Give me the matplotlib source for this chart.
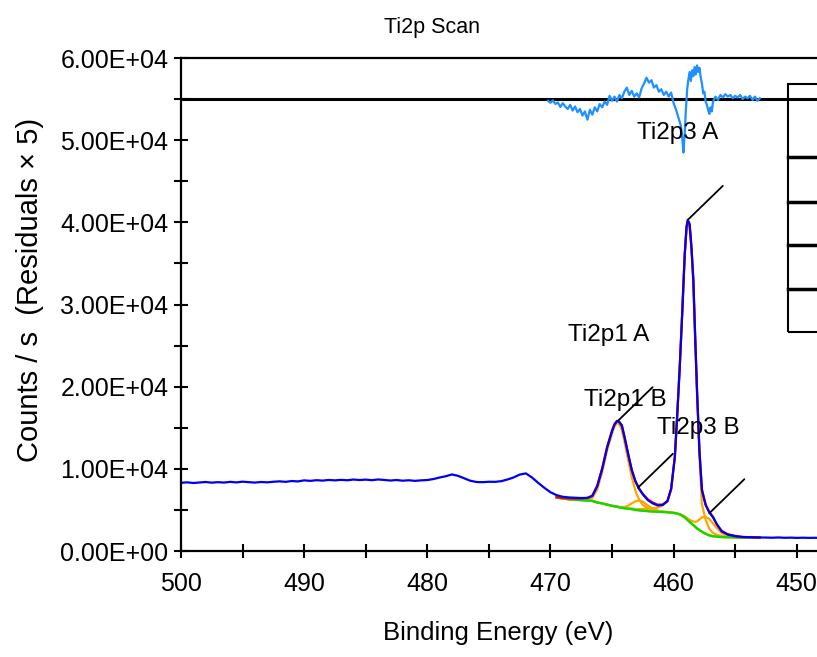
import numpy as np
import matplotlib
matplotlib.use('Agg')
import matplotlib.pyplot as plt
from matplotlib.patches import Rectangle
from matplotlib.lines import Line2D
from matplotlib.ticker import MultipleLocator, FuncFormatter

plt.rcParams['font.family'] = ['Liberation Sans', 'DejaVu Sans']

# wide scan part (500 -> 470 eV, 0.5 eV step)
be_wide = np.arange(500.0, 469.9, -0.5)
counts_wide = [8300, 8360, 8280, 8340, 8400, 8320, 8380, 8330, 8420, 8350,
               8440, 8380, 8330, 8400, 8360, 8430, 8480, 8420, 8520, 8470,
               8600, 8540, 8620, 8570, 8650, 8600, 8660, 8610, 8700, 8640,
               8690, 8620, 8710, 8650, 8580, 8640, 8560, 8610, 8540, 8600,
               8640, 8760, 8950, 9100, 9320, 9150, 8850, 8550, 8400, 8380,
               8430, 8420, 8500, 8700, 8950, 9300, 9450, 8950, 8300, 7700,
               7150]

# fit region
be_fit = [469.5, 469.0, 468.5, 468.0, 467.5, 467.0, 466.6, 466.2, 465.8, 465.4,
          465.0, 464.8, 464.6, 464.4, 464.2, 464.0, 463.7, 463.4, 463.1, 462.8,
          462.5, 462.1, 461.7, 461.3, 460.9, 460.5, 460.2, 459.9, 459.7, 459.5,
          459.3, 459.1, 458.95, 458.85, 458.7, 458.55, 458.4, 458.25, 458.1, 457.9,
          457.7, 457.4, 457.1, 456.8, 456.5, 456.1, 455.6, 455.0, 454.4, 453.7,
          453.0]
counts_fit = [6800, 6600, 6520, 6480, 6450, 6470, 6700, 7900, 10000, 12600,
              14600, 15400, 15800, 15700, 15300, 14000, 11900, 9900, 8500, 7600,
              6900, 6200, 5800, 5550, 5600, 6100, 7600, 11500, 16800, 22500,
              29000, 36000, 39500, 40300, 39800, 37000, 33000, 26000, 19500, 12000,
              7400, 5600, 4700, 4100, 3300, 2400, 2000, 1800, 1700, 1680,
              1650]
envelope = [6550, 6450, 6400, 6380, 6400, 6450, 6750, 7950, 10050, 12650,
            14650, 15450, 15850, 15650, 15200, 13900, 11800, 9800, 8450, 7550,
            6950, 6300, 5900, 5650, 5650, 6050, 7500, 11400, 16700, 22400,
            29100, 36100, 39400, 40200, 39700, 36900, 33100, 26200, 19700, 12200,
            7500, 5650, 4750, 4150, 3250, 2450, 2050, 1850, 1720, 1660,
            1640]
background = [6500, 6400, 6300, 6250, 6200, 6150, 6100, 5900, 5800, 5650,
              5500, 5450, 5400, 5300, 5250, 5200, 5150, 5100, 5000, 4950,
              4900, 4850, 4800, 4780, 4750, 4720, 4680, 4620, 4550, 4450,
              4300, 4100, 3900, 3750, 3550, 3350, 3150, 2950, 2750, 2550,
              2350, 2100, 1900, 1800, 1750, 1700, 1680, 1660, 1650, 1650,
              1650]
# component intensities above background
ti2p3_a = [0, 0, 0, 0, 0, 0, 0, 0, 0, 0,
           0, 0, 10, 20, 30, 40, 60, 80, 110, 150,
           200, 280, 380, 500, 800, 1300, 2900, 6900, 12200, 18000,
           24600, 31800, 35400, 36300, 35800, 33200, 29300, 22800, 16300, 8800,
           3300, 1700, 800, 400, 220, 110, 50, 20, 0, 0,
           0]
ti2p3_b = [0, 0, 0, 0, 0, 0, 0, 0, 0, 0,
           0, 0, 0, 0, 0, 0, 0, 0, 0, 0,
           0, 0, 0, 0, 0, 0, 0, 0, 0, 50,
           80, 120, 160, 200, 260, 330, 450, 600, 850, 1300,
           1750, 2050, 2000, 1550, 1050, 500, 150, 30, 0, 0,
           0]
ti2p1_a = [0, 0, 0, 10, 30, 100, 350, 1600, 3800, 6600,
           8800, 9700, 10200, 10100, 9500, 8200, 6000, 3900, 2300, 1300,
           700, 350, 160, 80, 40, 20, 10, 0, 0, 0,
           0, 0, 0, 0, 0, 0, 0, 0, 0, 0,
           0, 0, 0, 0, 0, 0, 0, 0, 0, 0,
           0]
ti2p1_b = [0, 0, 0, 0, 0, 0, 0, 0, 0, 0,
           0, 20, 40, 70, 110, 170, 350, 700, 1050, 1200,
           1100, 700, 350, 150, 60, 20, 0, 0, 0, 0,
           0, 0, 0, 0, 0, 0, 0, 0, 0, 0,
           0, 0, 0, 0, 0, 0, 0, 0, 0, 0,
           0]

# low BE tail
be_tail = np.arange(452.5, 447.9, -0.5)
counts_tail = [1640, 1620, 1650, 1610, 1630, 1600, 1620, 1600, 1610, 1590]

# residuals (x5), drawn about the offset line
res_offset = 55000
be_res = [470.2, 470.0, 469.8, 469.6, 469.4, 469.2, 469.0, 468.8, 468.6, 468.4,
          468.2, 468.0, 467.8, 467.6, 467.4, 467.2, 467.0, 466.8, 466.6, 466.4,
          466.2, 466.0, 465.8, 465.6, 465.4, 465.2, 465.0, 464.8, 464.6, 464.4,
          464.2, 464.0, 463.8, 463.6, 463.4, 463.2, 463.0, 462.8, 462.6, 462.4,
          462.2, 462.0, 461.8, 461.6, 461.4, 461.2, 461.0, 460.8, 460.6, 460.4,
          460.2, 460.0, 459.8, 459.6, 459.4, 459.3, 459.2, 459.1, 459.0, 458.9,
          458.8, 458.7, 458.6, 458.5, 458.4, 458.3, 458.2, 458.1, 458.0, 457.9,
          457.8, 457.7, 457.6, 457.5, 457.4, 457.3, 457.2, 457.1, 457.0, 456.9,
          456.8, 456.6, 456.4, 456.2, 456.0, 455.8, 455.6, 455.4, 455.2, 455.0,
          454.8, 454.6, 454.4, 454.2, 454.0, 453.8, 453.6, 453.4, 453.2, 453.0]
resid = [-200, -450, -150, -600, -400, -950, -500, -900, -1200, -700,
         -1400, -900, -1600, -1200, -2000, -1500, -2500, -1300, -1900, -1000,
         -1500, -600, -1000, -300, -700, 400, -200, 300, -300, 500,
         100, 900, 1400, 500, 1000, 300, 700, 200, 1300, 1900,
         2600, 2000, 2300, 1400, 1700, 900, 1200, 500, 900, 300,
         800, -500, -1300, -2300, -3300, -4700, -6500, -4200, -1200, 1200,
         2400, 3300, 2200, 3500, 2800, 3900, 3000, 4100, 3300, 3800,
         2600, 1900, 700, 900, -300, -700, -1300, -1800, -1000, -1500,
         -300, 300, -100, 500, 200, 600, 300, 500, 100, 400,
         200, 500, 0, 300, 100, 400, -100, 300, -200, 100]

# peak labels and marker lines
label_text = ['Ti2p3 A', 'Ti2p1 A', 'Ti2p1 B', 'Ti2p3 B']
label_x = [459.65, 465.3, 463.9, 458.0]
label_y = [50900, 26300, 18400, 15000]
mark_x = [458.85, 464.55, 462.9, 457.1]
mark_y = [40300, 15800, 7700, 4600]

fig = plt.figure(figsize=(8.17, 6.57), dpi=100)
ax = fig.add_axes([0.2215, 0.1613, 0.9045, 0.7504])

be_fit = np.array(be_fit)
bg = np.array(background)
be_all = np.concatenate([be_wide, be_fit, be_tail])
counts_all = np.concatenate([counts_wide, counts_fit, counts_tail])

lw = 1.6
for comp in [ti2p3_a, ti2p3_b, ti2p1_a, ti2p1_b]:
    ax.plot(be_fit, bg + np.array(comp), color='#ffa500', lw=lw)
ax.plot(be_fit, bg, color='#00e000', lw=lw)
ax.plot(be_fit, envelope, color='#ff0000', lw=lw)
ax.plot(be_all, counts_all, color='#0000ee', lw=lw)

ax.axhline(res_offset, color='black', lw=2.2)
ax.plot(be_res, res_offset + np.array(resid), color='#1e90ff', lw=lw)

for mx, my in zip(mark_x, mark_y):
    ax.annotate('', xy=(mx, my), xytext=(35, 34), textcoords='offset pixels',
                arrowprops=dict(arrowstyle='-', color='black', lw=1.3, shrinkA=0, shrinkB=0))
for t, lx, ly in zip(label_text, label_x, label_y):
    ax.text(lx, ly, t, fontsize=17.5, ha='center', va='center')

ax.set_xlim(500, 440)
ax.set_ylim(0, 60000)
ax.xaxis.set_major_locator(MultipleLocator(10))
ax.xaxis.set_minor_locator(MultipleLocator(5))
ax.yaxis.set_major_locator(MultipleLocator(10000))
ax.yaxis.set_minor_locator(MultipleLocator(5000))
ax.yaxis.set_major_formatter(FuncFormatter(lambda v, p: '%.2E' % v))
ax.xaxis.set_major_formatter(FuncFormatter(lambda v, p: '%d' % v))
ax.tick_params(which='both', direction='inout', length=10, width=1.5)
ax.tick_params(axis='y', labelsize=18, pad=4)
ax.tick_params(axis='x', labelsize=18, pad=10)
for s in ax.spines.values():
    s.set_linewidth(1.6)

fig.text(432 / 817, 1 - 27 / 657, 'Ti2p Scan', fontsize=15.5, ha='center', va='center')
fig.text(498 / 817, 1 - 633 / 657, 'Binding Energy (eV)', fontsize=18.5, ha='center', va='center')
fig.text(30 / 817, 1 - 290 / 657, 'Counts / s  (Residuals \u00d7 5)', fontsize=21,
         ha='center', va='center', rotation=90)

# legend box (cut off at the right edge)
tr = fig.transFigure
fig.add_artist(Rectangle((788 / 817, 1 - 332 / 657), 0.1, 248 / 657, transform=tr,
                         fill=False, edgecolor='black', lw=1.5, clip_on=False))
for yp in [157, 202, 245, 289]:
    fig.add_artist(Line2D([788 / 817, 1.0], [1 - yp / 657] * 2, transform=tr,
                          color='black', lw=2.5))

fig.savefig('out.png', dpi=100)
